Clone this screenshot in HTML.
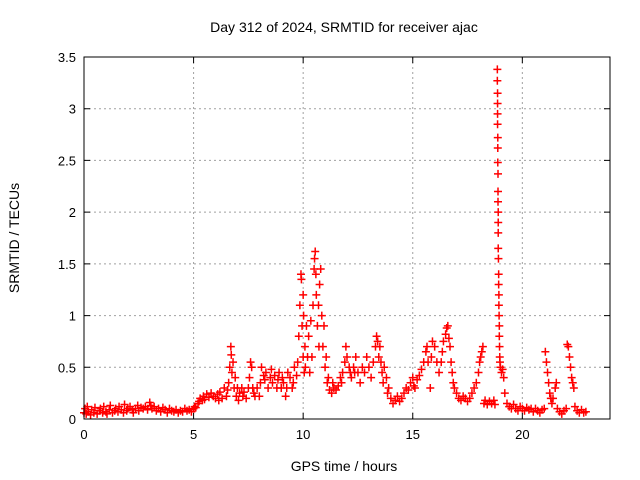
<!DOCTYPE html>
<html><head><meta charset="utf-8"><style>
body{margin:0;background:#fff;}
svg{display:block;font-family:"Liberation Sans",sans-serif;}
</style></head><body>
<svg id="chart" width="640" height="480">
<text x="344" y="32" font-size="14" text-anchor="middle">Day 312 of 2024, SRMTID for receiver ajac</text>
<text x="344" y="471" font-size="14" text-anchor="middle">GPS time / hours</text>
<text x="19" y="238" font-size="14" text-anchor="middle" transform="rotate(-90 19 238)">SRMTID / TECUs</text>
<g id="grid"></g><g id="marks"></g>
<rect x="84" y="57" width="526" height="362" fill="none" stroke="#000" stroke-width="1"/>
</svg>
<script>
const xTicks=[0,5,10,15,20];
const yTicks=[0,0.5,1,1.5,2,2.5,3,3.5];
const yTickLabels=["0","0.5","1","1.5","2","2.5","3","3.5"];
const quietMorning=[[0,0.06],[0.05,0.1],[0.1,0.05],[0.15,0.12],[0.2,0.07],[0.3,0.04],[0.35,0.09],[0.45,0.06],[0.5,0.11],[0.6,0.05],[0.7,0.08],[0.75,0.1],[0.85,0.06],[0.9,0.12],[1,0.07],[1.05,0.05],[1.15,0.09],[1.2,0.13],[1.3,0.06],[1.4,0.08],[1.45,0.1],[1.55,0.07],[1.6,0.12],[1.7,0.09],[1.8,0.06],[1.85,0.14],[1.95,0.08],[2,0.1],[2.1,0.12],[2.2,0.09],[2.25,0.06],[2.35,0.1],[2.45,0.13],[2.5,0.08],[2.6,0.11],[2.7,0.1],[2.8,0.12],[2.9,0.09],[3,0.16],[3.05,0.13],[3.1,0.1],[3.2,0.12],[3.3,0.08],[3.4,0.1],[3.5,0.07],[3.6,0.11],[3.7,0.09],[3.8,0.06],[3.9,0.1],[4,0.08],[4.1,0.07],[4.2,0.09],[4.3,0.06],[4.4,0.08],[4.5,0.07],[4.6,0.1],[4.7,0.08],[4.8,0.09],[4.9,0.07],[5,0.1]];
const morningRise=[[5.05,0.12],[5.1,0.11],[5.2,0.15],[5.25,0.17],[5.3,0.2],[5.4,0.18],[5.45,0.22],[5.5,0.19],[5.6,0.24],[5.7,0.21],[5.8,0.25],[5.9,0.22],[6,0.2],[6.1,0.24],[6.15,0.18],[6.2,0.26],[6.3,0.2],[6.4,0.3],[6.5,0.22],[6.55,0.28],[6.6,0.35],[6.65,0.5],[6.7,0.7],[6.72,0.62],[6.75,0.45],[6.8,0.55],[6.85,0.3],[6.9,0.4],[6.95,0.22],[7,0.3],[7.05,0.18],[7.1,0.25],[7.2,0.3],[7.25,0.22],[7.3,0.26],[7.4,0.2],[7.5,0.3],[7.55,0.4],[7.6,0.55],[7.65,0.5],[7.7,0.3],[7.75,0.25],[7.8,0.22],[7.9,0.3],[8,0.22],[8.05,0.35],[8.1,0.5],[8.2,0.42],[8.25,0.38],[8.3,0.45],[8.4,0.3],[8.5,0.4],[8.55,0.48],[8.6,0.35],[8.7,0.42],[8.8,0.3],[8.85,0.38],[8.9,0.45],[9,0.3],[9.05,0.4],[9.1,0.35],[9.2,0.22],[9.25,0.3],[9.3,0.45],[9.4,0.4],[9.5,0.3],[9.55,0.35],[9.6,0.5],[9.7,0.42],[9.75,0.55]];
const stormPeak=[[9.8,0.8],[9.85,1.1],[9.9,1.4],[9.92,1.35],[9.95,0.9],[10,1.2],[10,0.6],[10.02,1.0],[10.05,0.45],[10.08,0.7],[10.1,0.5],[10.15,0.9],[10.2,0.6],[10.25,0.8],[10.3,0.45],[10.35,0.95],[10.4,0.6],[10.45,1.1],[10.5,1.45],[10.52,1.55],[10.55,1.62],[10.58,1.4],[10.6,1.2],[10.65,0.9],[10.7,1.1],[10.72,0.7],[10.75,1.3],[10.8,1.45],[10.85,1.0],[10.9,0.7],[10.95,0.9],[11,0.5],[11.05,0.6],[11.1,0.35],[11.15,0.4],[11.2,0.28],[11.3,0.25],[11.35,0.35],[11.4,0.3],[11.5,0.28],[11.6,0.32],[11.7,0.4],[11.75,0.35],[11.8,0.45],[11.9,0.55],[11.95,0.7],[12,0.6],[12.1,0.5],[12.15,0.45],[12.2,0.4],[12.3,0.5],[12.35,0.45],[12.4,0.6],[12.5,0.45],[12.6,0.35],[12.7,0.5],[12.8,0.45],[12.9,0.6],[13,0.5],[13.1,0.4],[13.2,0.55],[13.3,0.7],[13.35,0.8],[13.4,0.75],[13.45,0.6],[13.5,0.7],[13.55,0.55],[13.6,0.45],[13.65,0.35],[13.7,0.5],[13.8,0.4],[13.85,0.25],[13.9,0.3]];
const afternoon=[[14,0.2],[14.1,0.15],[14.2,0.18],[14.3,0.22],[14.4,0.17],[14.5,0.2],[14.6,0.25],[14.7,0.3],[14.8,0.28],[14.9,0.35],[15,0.4],[15.05,0.32],[15.1,0.3],[15.2,0.38],[15.3,0.42],[15.4,0.48],[15.5,0.55],[15.6,0.65],[15.65,0.7],[15.7,0.55],[15.8,0.3],[15.85,0.6],[15.9,0.75],[16,0.7],[16.1,0.55],[16.2,0.45],[16.3,0.55],[16.35,0.65],[16.4,0.75],[16.5,0.82],[16.55,0.88],[16.6,0.9],[16.65,0.78],[16.7,0.7],[16.75,0.55],[16.8,0.45],[16.85,0.35],[16.9,0.3],[17,0.25],[17.1,0.2],[17.2,0.18],[17.3,0.22],[17.4,0.2],[17.5,0.17],[17.6,0.2],[17.7,0.25],[17.8,0.3],[17.9,0.35],[18,0.45],[18.05,0.55],[18.1,0.6],[18.15,0.65],[18.2,0.7],[18.25,0.15],[18.3,0.18],[18.4,0.14],[18.5,0.17],[18.6,0.15],[18.7,0.18],[18.75,0.14]];
const bigSpike=[[18.86,3.38],[18.86,3.27],[18.87,3.15],[18.87,3.05],[18.87,2.95],[18.87,2.85],[18.88,2.72],[18.88,2.62],[18.88,2.48],[18.89,2.37],[18.89,2.2],[18.89,2.1],[18.9,2.0],[18.9,1.9],[18.9,1.8],[18.9,1.65],[18.91,1.55],[18.92,1.4],[18.92,1.3],[18.93,1.2],[18.93,1.1],[18.94,1.0],[18.95,0.9],[18.95,0.8],[18.96,0.7],[18.97,0.6],[18.98,0.55],[19,0.5],[19.05,0.45],[19.1,0.48],[19.15,0.4]];
const evening=[[19.2,0.25],[19.3,0.15],[19.4,0.12],[19.5,0.1],[19.6,0.14],[19.7,0.1],[19.8,0.08],[19.9,0.12],[20,0.1],[20.1,0.08],[20.2,0.11],[20.3,0.09],[20.4,0.1],[20.5,0.07],[20.6,0.1],[20.7,0.08],[20.8,0.06],[20.9,0.09],[21,0.1],[21.05,0.65],[21.1,0.55],[21.15,0.45],[21.2,0.35],[21.25,0.25],[21.3,0.2],[21.35,0.15],[21.4,0.2],[21.5,0.3],[21.55,0.35],[21.6,0.1],[21.7,0.07],[21.8,0.05],[21.9,0.08],[22,0.1],[22.05,0.72],[22.1,0.7],[22.15,0.6],[22.2,0.5],[22.25,0.4],[22.3,0.35],[22.35,0.3],[22.4,0.12],[22.5,0.08],[22.6,0.06],[22.7,0.09],[22.8,0.06],[22.9,0.07]];
const X0=84,X1=610,Y0=419,Y1=57,XMAX=24,YMAX=3.5;
const xs=v=>X0+(v/XMAX)*(X1-X0);
const ys=v=>Y0-(v/YMAX)*(Y0-Y1);
const NS="http://www.w3.org/2000/svg";
const grid=document.getElementById('grid'),marks=document.getElementById('marks');
function mk(t,a){const e=document.createElementNS(NS,t);for(const k in a)e.setAttribute(k,a[k]);return e;}
xTicks.forEach(t=>{const x=xs(t);
 if(t>0){const g=mk('line',{x1:x,x2:x,y1:Y1,y2:Y0,stroke:'#a0a0a0','stroke-dasharray':'2,3'});grid.appendChild(g);}
 const k=mk('path',{d:`M${x},${Y0}v-6M${x},${Y1}v6`,stroke:'#000'});grid.appendChild(k);
 const l=mk('text',{x:x,y:Y0+20,'font-size':13,'text-anchor':'middle'});l.textContent=t;grid.appendChild(l);});
yTicks.forEach((t,i)=>{const y=ys(t);
 if(t>0&&t<YMAX){const g=mk('line',{x1:X0,x2:X1,y1:y,y2:y,stroke:'#a0a0a0','stroke-dasharray':'2,3'});grid.appendChild(g);}
 const k=mk('path',{d:`M${X0},${y}h6M${X1},${y}h-6`,stroke:'#000'});grid.appendChild(k);
 const l=mk('text',{x:X0-8,y:y+5,'font-size':13,'text-anchor':'end'});l.textContent=yTickLabels[i];grid.appendChild(l);});
[quietMorning,morningRise,stormPeak,afternoon,bigSpike,evening].forEach(series=>{
 series.forEach(pt=>{const x=xs(pt[0]),y=ys(pt[1]);
  const p=mk('path',{d:`M${x-4},${y}h8M${x},${y-4}v8`,stroke:'#ff0000','stroke-width':1.5});
  
  
  marks.appendChild(p);});
});
</script>
</body></html>
